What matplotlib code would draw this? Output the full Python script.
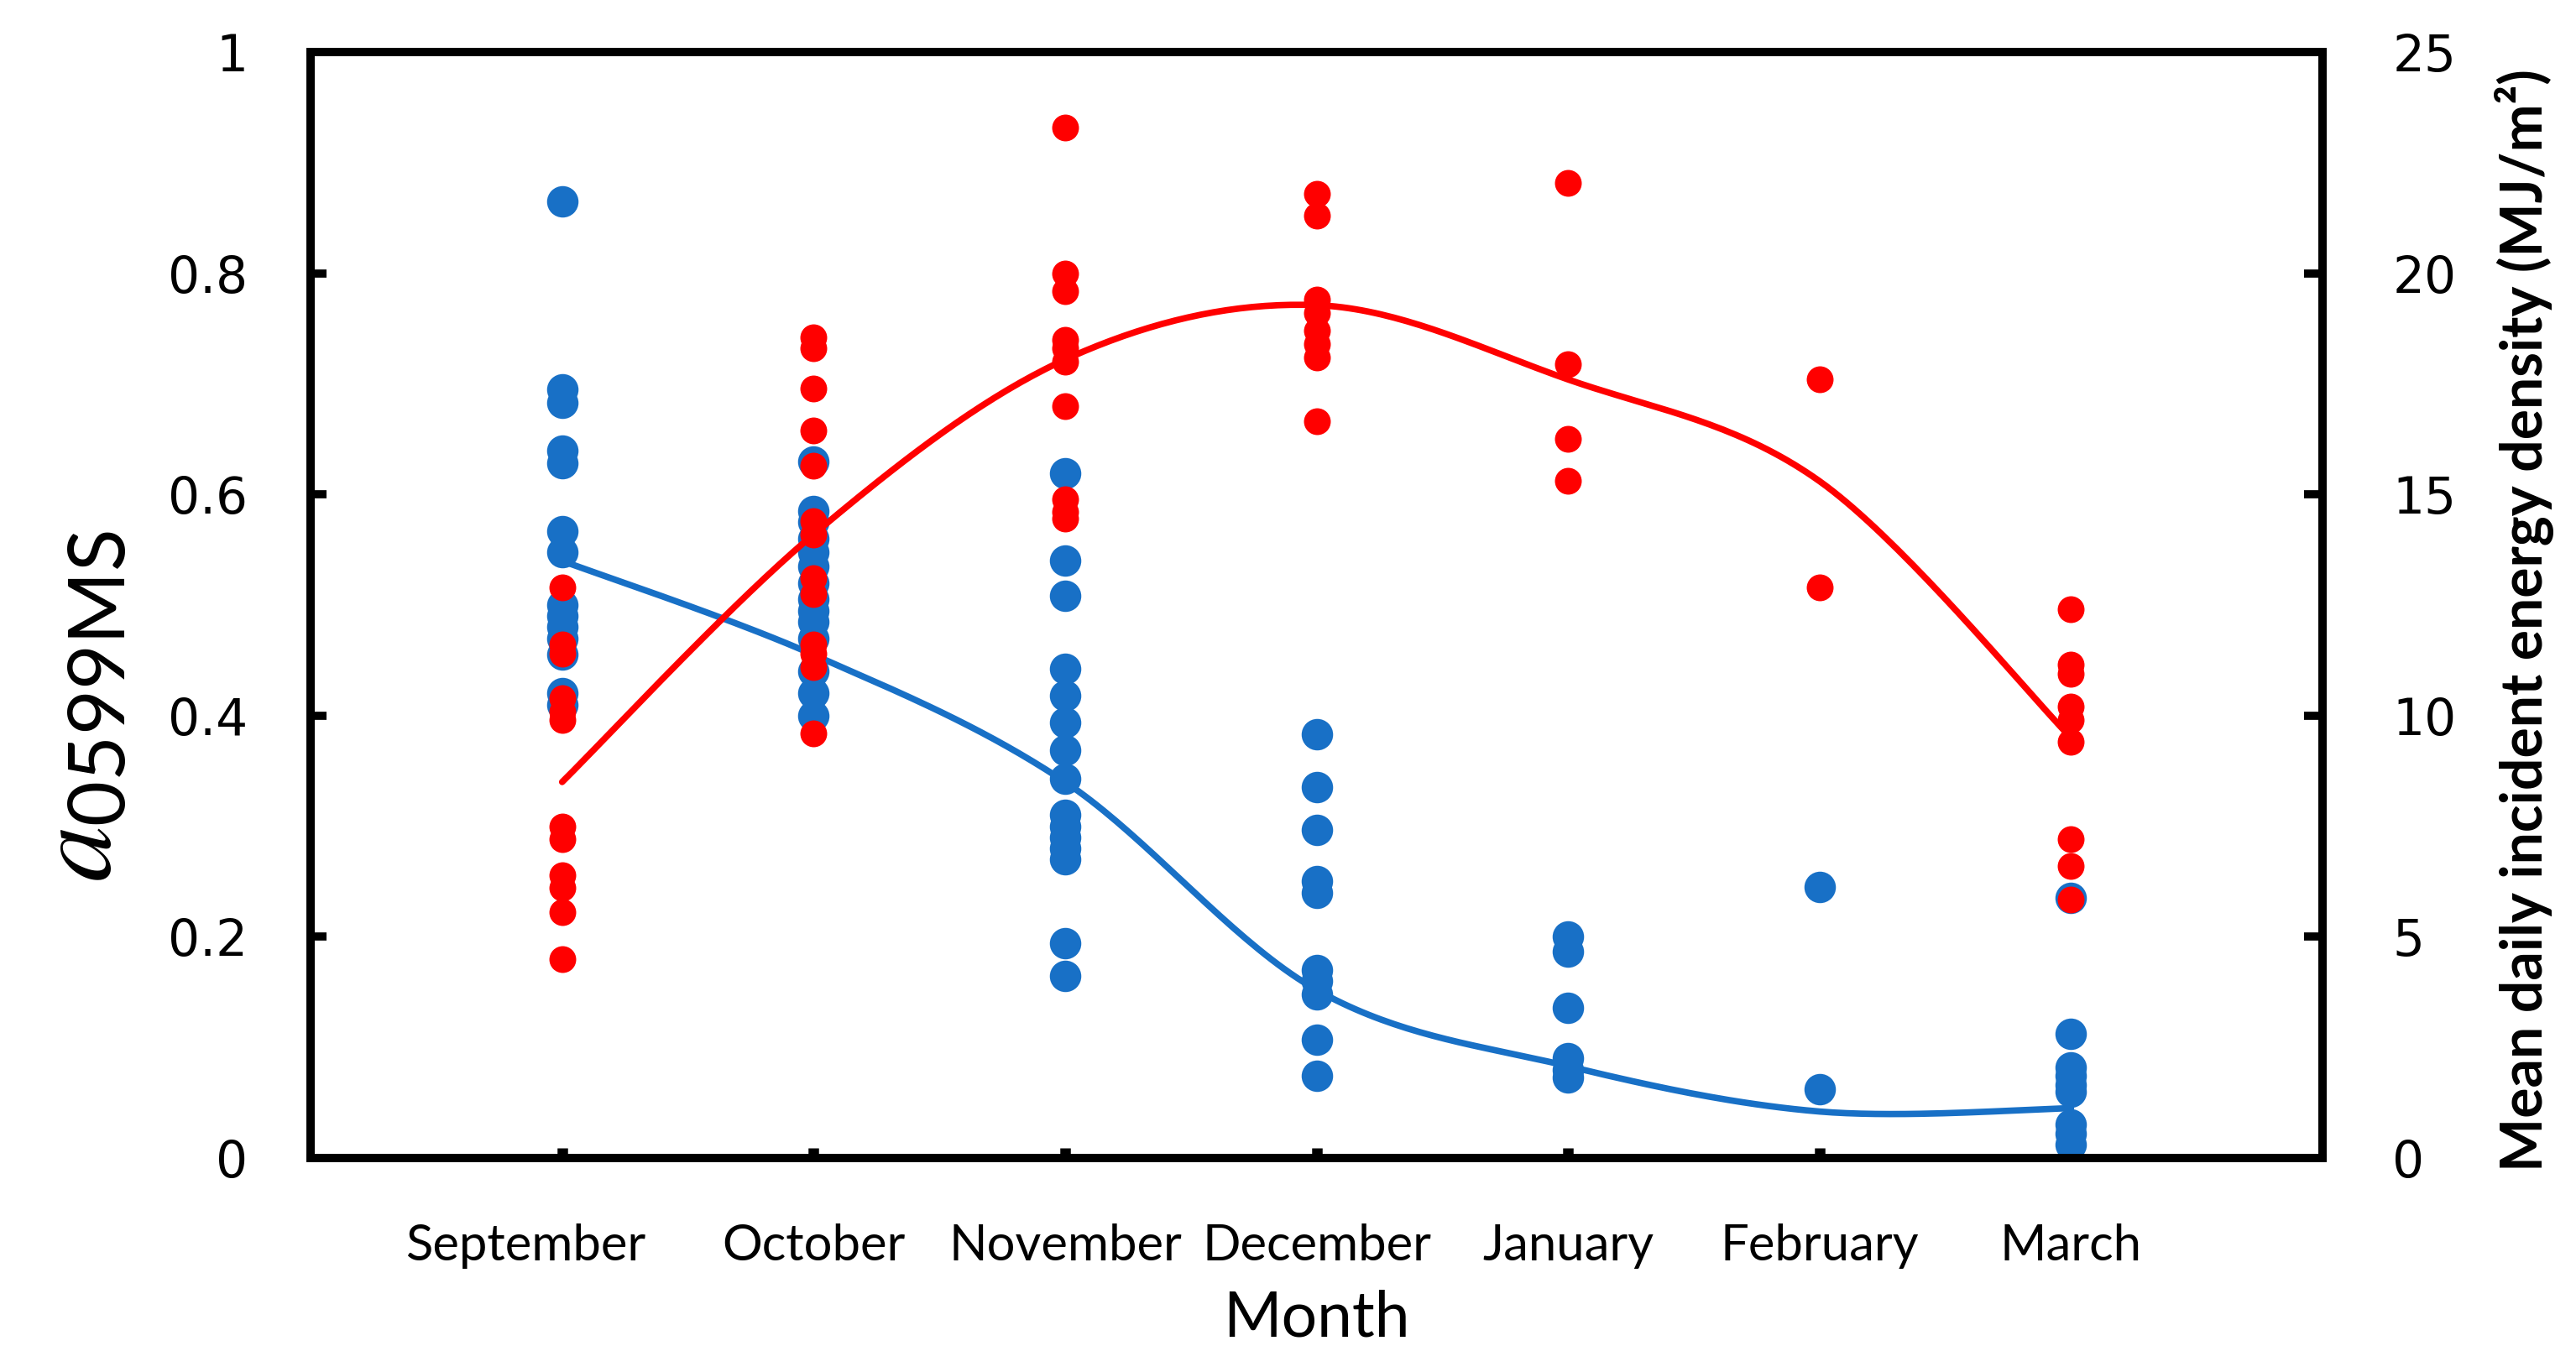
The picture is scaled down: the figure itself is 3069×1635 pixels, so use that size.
import numpy as np
import matplotlib
matplotlib.use("Agg")
import matplotlib.pyplot as plt

plt.rcParams['mathtext.fontset'] = 'custom'
plt.rcParams['mathtext.it'] = 'STIXGeneral:italic'
plt.rcParams['mathtext.rm'] = 'Lato'

months = ['September', 'October', 'November', 'December', 'January', 'February', 'March']

# alpha values (left axis), one list per month
alpha_pts = [
    [0.865, 0.695, 0.683, 0.64, 0.628, 0.567, 0.548, 0.50, 0.49, 0.48, 0.47, 0.455, 0.42, 0.41],
    [0.63, 0.585, 0.575, 0.56, 0.548, 0.535, 0.52, 0.505, 0.495, 0.485, 0.47, 0.44, 0.42, 0.40],
    [0.619, 0.540, 0.508, 0.442, 0.418, 0.394, 0.369, 0.343, 0.31, 0.30, 0.29, 0.28, 0.27, 0.194, 0.165],
    [0.383, 0.335, 0.297, 0.25, 0.24, 0.17, 0.16, 0.148, 0.107, 0.074],
    [0.20, 0.187, 0.136, 0.09, 0.08, 0.073],
    [0.245, 0.062],
    [0.235, 0.112, 0.082, 0.074, 0.066, 0.06, 0.03, 0.022, 0.012],
]
# mean daily incident energy density (right axis, MJ/m2)
energy_pts = [
    [12.9, 11.6, 11.4, 10.4, 10.1, 9.9, 7.5, 7.2, 6.4, 6.1, 5.55, 4.5],
    [18.55, 18.3, 17.4, 16.45, 15.65, 14.4, 14.1, 13.1, 12.75, 11.6, 11.4, 11.1, 9.6],
    [23.3, 20.0, 19.6, 18.5, 18.3, 18.0, 17.0, 14.9, 14.6, 14.45],
    [21.8, 21.3, 19.4, 19.1, 18.7, 18.4, 18.1, 16.65],
    [22.05, 17.95, 16.25, 15.3],
    [17.6, 12.9],
    [12.4, 11.15, 10.95, 10.2, 9.9, 9.4, 7.2, 6.6, 5.85],
]
# monthly trend values
alpha_trend = [0.54, 0.455, 0.34, 0.152, 0.083, 0.042, 0.045]
energy_trend = [8.5, 14.1, 18.05, 19.28, 17.6, 15.3, 9.5]

blue = '#1870c6'
red = '#ff0000'


def smooth(xs, ys, n=40):
    # Catmull-Rom spline through the nodes, like Excel's smoothed line
    x = np.concatenate([[xs[0]], xs, [xs[-1]]]).astype(float)
    y = np.concatenate([[ys[0]], ys, [ys[-1]]]).astype(float)
    ox, oy = [], []
    t = np.linspace(0, 1, n)
    for i in range(1, len(x) - 2):
        for arr, out in ((x, ox), (y, oy)):
            p0, p1, p2, p3 = arr[i - 1], arr[i], arr[i + 1], arr[i + 2]
            out.extend(0.5 * (2 * p1 + (-p0 + p2) * t
                              + (2 * p0 - 5 * p1 + 4 * p2 - p3) * t ** 2
                              + (-p0 + 3 * p1 - 3 * p2 + p3) * t ** 3))
    return ox, oy


pos = np.arange(1, len(months) + 1)

fig = plt.figure(figsize=(30.69, 16.35), dpi=100)
ax = fig.add_axes([0.1206, 0.156, 0.781, 0.806])
ax2 = ax.twinx()

sx, sy = smooth(pos, alpha_trend)
ax.plot(sx, sy, color=blue, lw=5.5, zorder=1, solid_capstyle='round')
for p, vals in zip(pos, alpha_pts):
    ax.plot([p] * len(vals), vals, 'o', color=blue, ms=27, mec='none', zorder=2)

for p, vals in zip(pos, energy_pts):
    ax2.plot([p] * len(vals), vals, 'o', color=red, ms=23, mec='none', zorder=2)
sx, sy = smooth(pos, energy_trend)
ax2.plot(sx, sy, color=red, lw=5.5, zorder=3, solid_capstyle='round')

ax.set_xlim(0, 8)
ax.set_ylim(0, 1)
ax2.set_ylim(0, 25)

# the first category label sits a bit left of its tick in the original,
# so it is drawn separately with an offset
ax.set_xticks(pos)
ax.set_xticklabels([''] + months[1:], family='Lato', fontsize=43)
ax.annotate(months[0], xy=(pos[0], 0), xycoords=('data', 'axes fraction'),
            xytext=(-31, -56), textcoords='offset points',
            ha='center', va='top', family='Lato', fontsize=43)
ax.set_yticks([0, 0.2, 0.4, 0.6, 0.8, 1])
ax.set_yticklabels(['0', '0.2', '0.4', '0.6', '0.8', '1'], fontsize=43)
ax2.set_yticks([0, 5, 10, 15, 20, 25])
ax2.set_yticklabels(['0', '5', '10', '15', '20', '25'], fontsize=43)

ax.tick_params(axis='x', direction='in', length=9, width=9, pad=56)
ax.tick_params(axis='y', direction='in', length=14, width=7, pad=54)
ax2.tick_params(axis='y', direction='in', length=16, width=7, pad=60)

for a in (ax, ax2):
    for s in a.spines.values():
        s.set_linewidth(7)

ax.set_xlabel('Month', family='Lato', fontsize=54, labelpad=18)

fig.text(0.031, 0.485, r'$a_{\mathrm{0599MS}}$', rotation=90, fontsize=96,
         ha='center', va='center')
fig.text(0.98, 0.548, 'Mean daily incident energy density (MJ/m²)', rotation=90,
         family='Lato', weight='bold', fontsize=49,
         ha='center', va='center')

fig.savefig('out.png', dpi=100)
